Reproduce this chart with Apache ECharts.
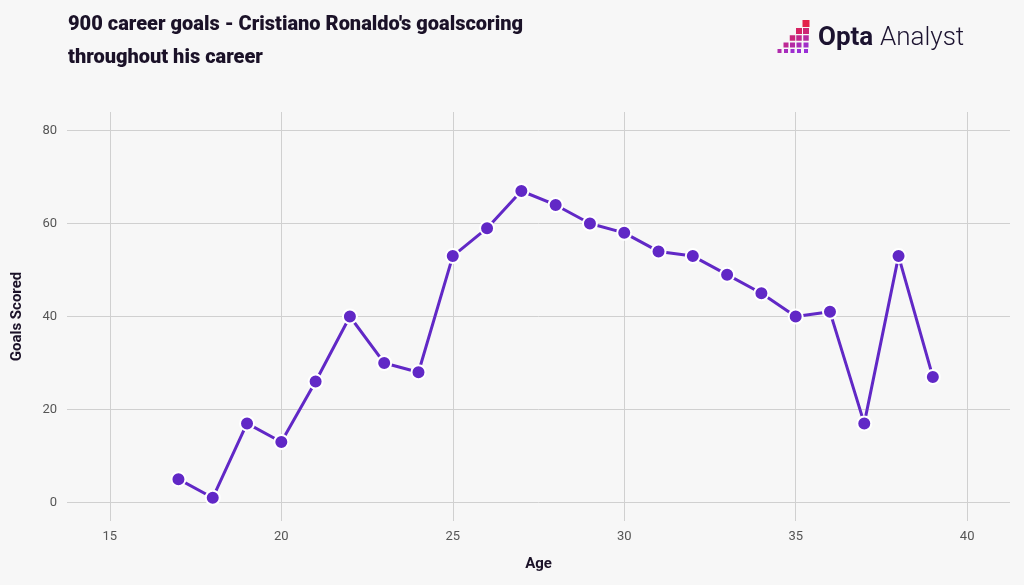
<!DOCTYPE html>
<html>
<head>
<meta charset="utf-8">
<script src="https://cdn.jsdelivr.net/npm/echarts@6/dist/echarts.min.js"></script>
<style>
html,body{margin:0;padding:0;background:#f7f7f7;}
#chart{width:1024px;height:585px;}
</style>
</head>
<body>
<div id="chart"></div>
<script>
const ages = [17,18,19,20,21,22,23,24,25,26,27,28,29,30,31,32,33,34,35,36,37,38,39];
const goals = [5,1,17,13,26,40,30,28,53,59,67,64,60,58,54,53,49,45,40,41,17,53,27];
const xTicks = [15,20,25,30,35,40];
const yTicks = [0,20,40,60,80];
const titleText = "900 career goals - Cristiano Ronaldo's goalscoring\nthroughout his career";

const chart = echarts.init(document.getElementById('chart'));

// logo pixel staircase
const colX = [779.5, 786, 792.5, 799, 806];
const rowY = [23.5, 31, 38, 45, 51];
const rowS = [7, 6, 5.5, 5, 4];
function mix(a, b, t) {
  const pa = [parseInt(a.slice(1,3),16), parseInt(a.slice(3,5),16), parseInt(a.slice(5,7),16)];
  const pb = [parseInt(b.slice(1,3),16), parseInt(b.slice(3,5),16), parseInt(b.slice(5,7),16)];
  return 'rgb(' + pa.map((v,i) => Math.round(v + (pb[i]-v)*t)).join(',') + ')';
}
const logo = [];
for (let r = 0; r < 5; r++) {
  for (let c = 4 - r; c < 5; c++) {
    const t = Math.min(1, Math.max(0, (r / 4) * 0.7 + ((c - (4 - r)) / 4) * 0.5));
    const s = rowS[r];
    logo.push({type: 'rect', shape: {x: colX[c] - s/2, y: rowY[r] - s/2, width: s, height: s},
      style: {fill: mix('#e3204a', '#9a2fd6', t)}});
  }
}

chart.setOption({
  backgroundColor: '#f7f7f7',
  title: {
    text: titleText,
    left: 68, top: 8, padding: 0,
    textStyle: {fontFamily: 'Roboto', fontSize: 20, fontWeight: 900, color: '#1b1228', lineHeight: 33}
  },
  graphic: [
    ...logo,
    {type:'text', left: 818, top: 25, style:{text:'Opta', font:'bold 26px Roboto', fill:'#1c1330'}},
    {type:'text', left: 880, top: 25, style:{text:'Analyst', font:'300 26px Roboto', fill:'#1c1330'}}
  ],
  grid: {left: 67, right: 14, top: 112, bottom: 64},
  xAxis: {
    type: 'value', min: 13.75, max: 41.25,
    name: 'Age', nameLocation: 'middle', nameGap: 36,
    nameTextStyle: {fontFamily: 'Roboto', fontSize: 15, fontWeight: 'bold', color: '#1b1228'},
    axisLine: {show: false},
    axisTick: {show: false, customValues: xTicks},
    axisLabel: {customValues: xTicks, color: '#555', fontFamily: 'Roboto', fontSize: 13, margin: 9},
    splitLine: {show: true, lineStyle: {color: '#d0d0d0', width: 1}}
  },
  yAxis: {
    type: 'value', min: -4, max: 84,
    name: 'Goals Scored', nameLocation: 'middle', nameGap: 42, nameRotate: 90,
    nameTextStyle: {fontFamily: 'Roboto', fontSize: 15, fontWeight: 'bold', color: '#1b1228'},
    axisLine: {show: false},
    axisTick: {show: false, customValues: yTicks},
    axisLabel: {customValues: yTicks, color: '#555', fontFamily: 'Roboto', fontSize: 13, margin: 10},
    splitLine: {show: true, lineStyle: {color: '#d0d0d0', width: 1}}
  },
  series: [{
    type: 'line',
    data: ages.map((a, i) => [a, goals[i]]),
    symbol: 'circle', symbolSize: 14,
    lineStyle: {color: '#6128c6', width: 3},
    itemStyle: {color: '#6128c6', borderColor: '#ffffff', borderWidth: 2},
    emphasis: {disabled: true},
    animation: false
  }]
});
</script>
</body>
</html>
